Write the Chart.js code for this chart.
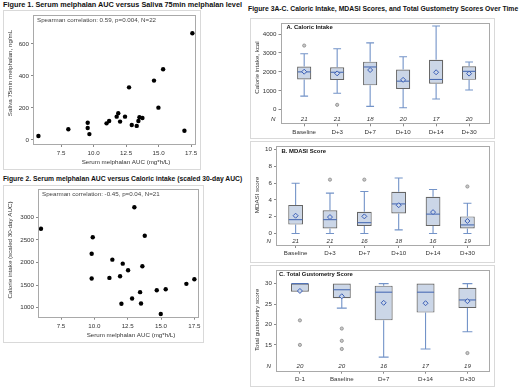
<!DOCTYPE html>
<html><head><meta charset="utf-8">
<script src="https://cdn.jsdelivr.net/npm/chart.js@4.4.1/dist/chart.umd.min.js"></script>
<style>
html,body{margin:0;padding:0;background:#fff;}
body{width:520px;height:389px;position:relative;overflow:hidden;font-family:'Liberation Sans',Arial,sans-serif;}
.ttl{position:absolute;font-weight:bold;white-space:nowrap;color:#111;line-height:1;}
.frm{position:absolute;box-sizing:border-box;border:1px solid #d9d9d9;}
canvas{position:absolute;}
</style></head><body>
<div class="ttl" style="left:3px;top:1px;font-size:7.3px">Figure 1. Serum melphalan AUC versus Saliva 75min melphalan level</div>
<div class="ttl" style="left:3px;top:176px;font-size:6.75px">Figure 2. Serum melphalan AUC versus Caloric intake (scaled 30-day AUC)</div>
<div class="ttl" style="left:248px;top:6px;font-size:6.8px">Figure 3A-C. Caloric Intake, MDASI Scores, and Total Gustometry Scores Over Time</div>
<div class="frm" style="left:3px;top:10px;width:198px;height:160px"></div>
<div class="frm" style="left:3px;top:185px;width:201px;height:158px"></div>
<div class="frm" style="left:250px;top:18px;width:245px;height:121px"></div>
<div class="frm" style="left:250px;top:141px;width:245px;height:122px"></div>
<div class="frm" style="left:250px;top:265px;width:245px;height:122px"></div>
<canvas id="c1" width="198" height="160" style="left:3px;top:10px"></canvas>
<canvas id="c2" width="201" height="158" style="left:3px;top:185px"></canvas>
<canvas id="cA" width="245" height="121" style="left:250px;top:18px"></canvas>
<canvas id="cB" width="245" height="122" style="left:250px;top:141px"></canvas>
<canvas id="cC" width="245" height="122" style="left:250px;top:265px"></canvas>
<script>
// ---------- Figure 1 data ----------
const fig1AUC    = [5.76, 8.06, 9.55, 9.55, 9.68, 11.0, 11.2, 11.78, 11.9, 12.04, 12.42, 12.73, 12.94, 13.32, 13.45, 13.53, 13.76, 14.65, 14.99, 15.35, 16.99, 17.6];
const fig1Saliva = [25, 67, 108, 75, 37, 104, 119, 146, 167, 115, 146, 329, 94, 88, 119, 142, 137, 371, 202, 442, 58, 667];
const fig1XTicks = [7.5, 10, 12.5, 15, 17.5];
const fig1YTicks = [0, 200, 400, 600];

// ---------- Figure 2 data ----------
const fig2AUC     = [6.0, 9.88, 9.8, 9.8, 11.13, 11.35, 11.93, 12.13, 12.03, 12.53, 13.0, 12.83, 13.43, 13.5, 13.6, 13.78, 14.68, 14.98, 15.35, 16.9, 17.5];
const fig2Calorie = [2745, 2560, 2195, 1645, 1660, 2063, 1696, 1975, 1088, 1828, 3221, 1205, 1345, 1095, 1916, 2591, 1388, 861, 1410, 1528, 1630];
const fig2XTicks = [7.5, 10, 12.5, 15, 17.5];
const fig2YTicks = [1000, 1500, 2000, 2500, 3000];

// ---------- Figure 3A: Caloric intake ----------
const catsA = ['Baseline', 'D+3', 'D+7', 'D+10', 'D+14', 'D+30'];
const minA  = [720, 870, 180, 110, 570, 1040];
const q1A   = [1600, 1570, 1290, 1100, 1370, 1580];
const medA  = [2000, 1980, 2260, 1510, 1600, 2030];
const q3A   = [2280, 2240, 2540, 2120, 2640, 2300];
const maxA  = [2960, 3220, 3530, 2800, 4420, 2520];
const meanA = [2010, 1920, 2100, 1580, 1980, 1910];
const outA  = [[3390], [260], [], [], [], []];
const nA    = [21, 21, 18, 20, 17, 20];
const yTicksA = [0, 1000, 2000, 3000, 4000];

// ---------- Figure 3B: MDASI score ----------
const catsB = ['Baseline', 'D+3', 'D+7', 'D+10', 'D+14', 'D+30'];
const minB  = [0, 0, 0, 0.43, 0, 0];
const q1B   = [1.06, 0.59, 0.9, 2.39, 0.9, 0.59];
const medB  = [1.65, 1.65, 1.29, 3.53, 2.31, 1.02];
const q3B   = [3.41, 2.78, 2.59, 4.98, 4.39, 2.04];
const maxB  = [6.0, 4.82, 5.02, 6.63, 5.25, 3.61];
const meanB = [2.12, 1.96, 2.04, 3.37, 2.55, 1.49];
const outB  = [[], [6.43], [6.43], [], [], [5.61]];
const nB    = [21, 21, 16, 18, 16, 19];
const yTicksB = [0, 2, 4, 6, 8, 10];

// ---------- Figure 3C: Total gustometry score ----------
const catsC = ['D-1', 'Baseline', 'D+7', 'D+14', 'D+30'];
const minC  = [28, 24, 12, 14, 18.2];
const q1C   = [28, 26.4, 21, 22.9, 24];
const medC  = [30, 28.5, 27.9, 27.9, 26];
const q3C   = [30, 30, 29.5, 30, 29];
const maxC  = [30, 30, 30, 30, 30];
const meanC = [28.2, 26.9, 25.3, 25.2, 25.7];
const outC  = [[21, 15], [19, 16, 14], [], [], [13]];
const nC    = [20, 20, 16, 17, 19];
const yTicksC = [15, 20, 25, 30];

// ---------- styling ----------
const FONT = "'Liberation Sans', Arial, sans-serif";
const TXT = '#333';
const FS = 6.2;
const BOX_FILL = '#cbd6e7';
const BOX_LINE = '#666666';
const WHISK = '#7393c8';
const MED = '#4a6cb4';
const MEAN = '#3b5fb8';

const deco = {
  id: 'deco',
  afterDatasetDraw(chart, args, o) {
    if (!o.box || chart.data.datasets[args.index].type !== 'bar') return;
    const ctx = chart.ctx, xs = chart.scales.x, ys = chart.scales.y;
    const meta = chart.getDatasetMeta(args.index);
    const b = o.box;
    ctx.save();
    ctx.lineWidth = 1.1;
    b.min.forEach((mn, i) => {
      const x = xs.getPixelForValue(i);
      const w = meta.data[i].width;
      const cap = w * 0.55;
      const yq1 = ys.getPixelForValue(b.q1[i]);
      const yq3 = ys.getPixelForValue(b.q3[i]);
      const ymn = ys.getPixelForValue(mn);
      const ymx = ys.getPixelForValue(b.max[i]);
      const ymd = ys.getPixelForValue(b.med[i]);
      ctx.strokeStyle = WHISK;
      ctx.beginPath();
      if (ymx < yq3 - 0.5) {
        ctx.moveTo(x, yq3); ctx.lineTo(x, ymx);
        ctx.moveTo(x - cap / 2, ymx); ctx.lineTo(x + cap / 2, ymx);
      }
      if (ymn > yq1 + 0.5) {
        ctx.moveTo(x, yq1); ctx.lineTo(x, ymn);
        ctx.moveTo(x - cap / 2, ymn); ctx.lineTo(x + cap / 2, ymn);
      }
      ctx.stroke();
      ctx.strokeStyle = MED;
      ctx.beginPath();
      ctx.moveTo(x - w / 2 + 0.5, ymd); ctx.lineTo(x + w / 2 - 0.5, ymd);
      ctx.stroke();
    });
    ctx.restore();
  },
  afterDraw(chart, args, o) {
    const ctx = chart.ctx, a = chart.chartArea;
    ctx.save();
    ctx.strokeStyle = '#a9a9a9';
    ctx.lineWidth = 1;
    const l = Math.round(a.left) - 0.5, t = Math.round(a.top) + 0.5;
    ctx.strokeRect(l, t, Math.round(a.right) - Math.round(a.left), Math.round(a.bottom) - Math.round(a.top));
    ctx.fillStyle = TXT;
    ctx.textBaseline = 'middle';
    ctx.font = FS + 'px ' + FONT;
    if (o.yTitle) {
      ctx.save();
      ctx.translate(o.yTitle.x, o.yTitle.y);
      ctx.rotate(-Math.PI / 2);
      ctx.textAlign = 'center';
      ctx.fillText(o.yTitle.text, 0, 0);
      ctx.restore();
    }
    if (o.xTitle) {
      ctx.textAlign = 'center';
      ctx.fillText(o.xTitle.text, o.xTitle.x, o.xTitle.y);
    }
    if (o.note) {
      ctx.textAlign = 'left';
      ctx.fillStyle = '#444';
      ctx.fillText(o.note.text, a.left + o.note.dx, a.top + o.note.dy);
    }
    if (o.panel) {
      ctx.textAlign = 'left';
      ctx.fillStyle = '#111';
      ctx.font = 'bold 5.9px ' + FONT;
      ctx.fillText(o.panel.text, a.left + o.panel.dx, a.top + o.panel.dy);
    }
    if (o.counts) {
      const xs = chart.scales.x;
      ctx.fillStyle = TXT;
      ctx.font = 'italic ' + FS + 'px ' + FONT;
      ctx.textAlign = 'right';
      ctx.fillText('N', a.left - 6, a.bottom - 4);
      ctx.textAlign = 'center';
      o.counts.forEach((n, i) => ctx.fillText(String(n), xs.getPixelForValue(i), a.bottom - 4));
    }
    ctx.restore();
  }
};

function axis(min, max, ticks, fmt, fitSize, horizontal, pad) {
  return {
    type: 'linear', min, max, offset: false,
    afterBuildTicks: s => { s.ticks = ticks.map(v => ({ value: v })); },
    afterFit: s => {
      if (horizontal) s.height = fitSize; else s.width = fitSize;
      s.paddingTop = s.paddingBottom = s.paddingLeft = s.paddingRight = 0;
    },
    grid: { display: true, drawOnChartArea: false, drawTicks: true, tickLength: 3, color: '#8a8a8a', offset: false },
    border: { display: false },
    ticks: { font: { family: FONT, size: FS }, color: TXT, padding: pad, autoSkip: false, maxRotation: 0, minRotation: 0,
             callback: fmt }
  };
}

const baseOpts = (padding) => ({
  responsive: false, animation: false, devicePixelRatio: 1,
  layout: { padding },
  plugins: { legend: { display: false }, tooltip: { enabled: false } }
});

function scatterChart(id, xs, ys, xT, yT, xr, yr, L, H, pad, deco_) {
  const o = baseOpts(pad);
  o.scales = {
    x: axis(xr[0], xr[1], xT, v => Number(v).toFixed(1), H, true, 3),
    y: axis(yr[0], yr[1], yT, v => String(v), L, false, 2)
  };
  o.plugins.deco = deco_;
  new Chart(document.getElementById(id), {
    type: 'scatter',
    data: { datasets: [{ data: xs.map((x, i) => ({ x, y: ys[i] })), pointRadius: 2.2, pointBackgroundColor: '#000', pointBorderColor: '#000', pointBorderWidth: 0 }] },
    options: o,
    plugins: [deco]
  });
}

function boxChart(id, cats, mn, q1, md, q3, mx, mean, outs, ns, yT, xr, yr, L, H, pad, deco_) {
  const o = baseOpts(pad);
  o.scales = {
    x: axis(xr[0], xr[1], cats.map((c, i) => i), v => cats[v], H, true, 2),
    y: axis(yr[0], yr[1], yT, v => String(v), L, false, 2)
  };
  deco_.box = { min: mn, q1, med: md, q3, max: mx };
  deco_.counts = ns;
  o.plugins.deco = deco_;
  new Chart(document.getElementById(id), {
    type: 'bar',
    data: { datasets: [
      { type: 'bar', order: 3, data: cats.map((c, i) => ({ x: i, y: [q1[i], q3[i]] })),
        backgroundColor: BOX_FILL, borderColor: BOX_LINE, borderWidth: 1.2, borderSkipped: false,
        categoryPercentage: 1, barPercentage: 0.43 },
      { type: 'scatter', order: 2, data: outs.flatMap((arr, i) => arr.map(v => ({ x: i, y: v }))),
        pointRadius: 1.6, pointBackgroundColor: '#c8c8c8', pointBorderColor: '#8a8a8a', pointBorderWidth: 0.8 },
      { type: 'scatter', order: 1, data: mean.map((v, i) => ({ x: i, y: v })),
        pointStyle: 'rectRot', pointRadius: 2.5, pointBackgroundColor: BOX_FILL, pointBorderColor: MEAN, pointBorderWidth: 1 }
    ] },
    options: o,
    plugins: [deco]
  });
}

scatterChart('c1', fig1AUC, fig1Saliva, fig1XTicks, fig1YTicks, [5.42, 17.88], [-25, 781], 31, 26,
  { left: 0, top: 5, right: 5, bottom: 0 },
  { yTitle: { text: 'Saliva 75min melphalan, ng/mL', x: 7, y: 63 },
    xTitle: { text: 'Serum melphalan AUC (mg*h/L)', x: 123, y: 152.7 },
    note: { text: 'Spearman correlation: 0.59, p=0.004, N=22', dx: 3, dy: 5 } });

scatterChart('c2', fig2AUC, fig2Calorie, fig2XTicks, fig2YTicks, [5.85, 17.87], [802, 3625], 36, 26.3,
  { left: 0, top: 3.3, right: 4.7, bottom: 0 },
  { yTitle: { text: 'Calorie intake (scaled 30-day AUC)', x: 7.5, y: 65 },
    xTitle: { text: 'Serum melphalan AUC (mg*h/L)', x: 128, y: 150.7 },
    note: { text: 'Spearman correlation: -0.45, p=0.04, N=21', dx: 3, dy: 5 } });

boxChart('cA', catsA, minA, q1A, medA, q3A, maxA, meanA, outA, nA, yTicksA, [-0.688, 5.634], [-715, 4582], 31.5, 15.7,
  { left: 0, top: 3.5, right: 4, bottom: 0 },
  { yTitle: { text: 'Calorie intake, kcal', x: 7, y: 49.5 }, panel: { text: 'A. Caloric Intake', dx: 5, dy: 4.5 } });

boxChart('cB', catsB, minB, q1B, medB, q3B, maxB, meanB, outB, nB, yTicksB, [-0.542, 5.658], [-1.38, 10.45], 27, 18,
  { left: 0, top: 3.5, right: 4, bottom: 0 },
  { yTitle: { text: 'MDASI score', x: 7, y: 54 }, panel: { text: 'B. MDASI Score', dx: 4.5, dy: 5 } });

boxChart('cC', catsC, minC, q1C, medC, q3C, maxC, meanC, outC, nC, yTicksC, [-0.547, 4.539], [8.68, 33.33], 27, 16.3,
  { left: 0, top: 4.3, right: 4, bottom: 0 },
  { yTitle: { text: 'Total gustometry score', x: 7, y: 55 }, panel: { text: 'C. Total Gustometry Score', dx: 2, dy: 4.5 } });
</script>
</body></html>
